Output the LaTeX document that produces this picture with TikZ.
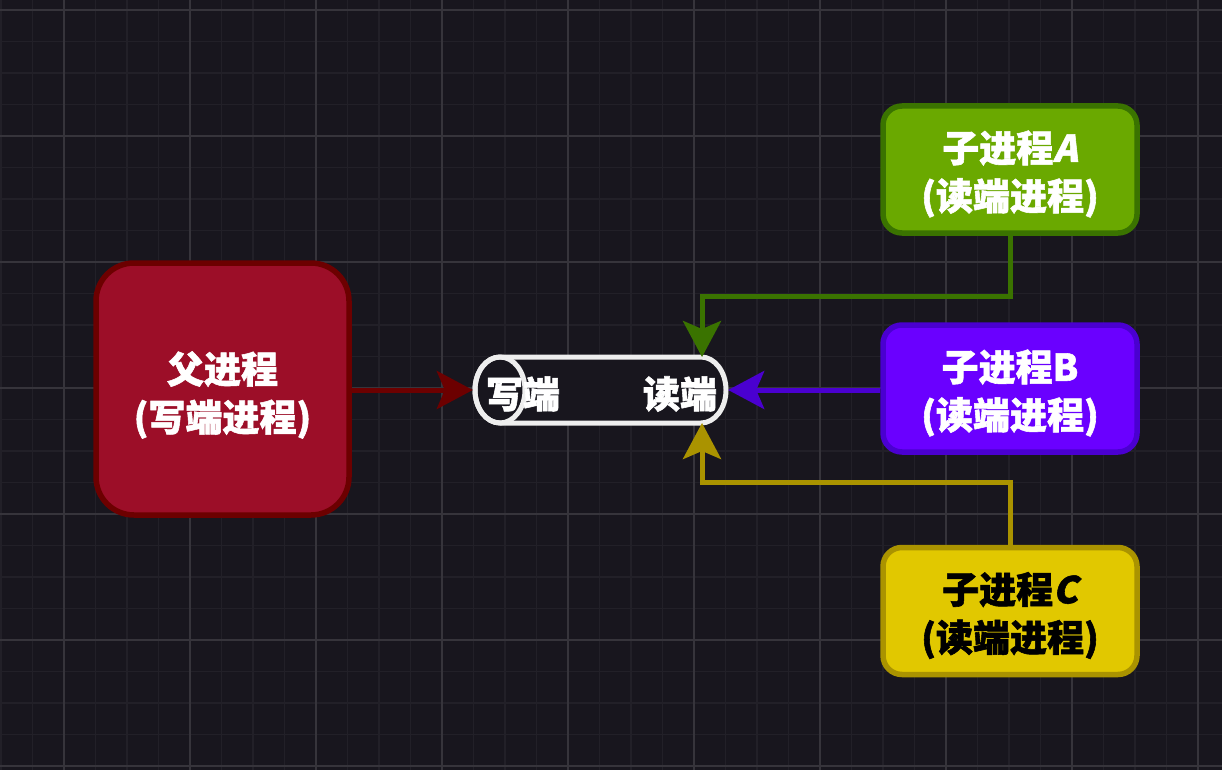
\documentclass[tikz,border=0pt]{standalone}
\usepackage{fontspec}
\usetikzlibrary{arrows.meta}
\newfontfamily\cjk{Noto Sans CJK SC}[BoldFeatures={FakeBold=1.5}]
\definecolor{bg}{HTML}{18161E}
\definecolor{gminor}{HTML}{222028}
\definecolor{gmajor}{HTML}{36343B}
\definecolor{pfill}{HTML}{9C0E28}
\definecolor{pline}{HTML}{6C0000}
\definecolor{afill}{HTML}{6AA900}
\definecolor{aline}{HTML}{3A7300}
\definecolor{bfill}{HTML}{6A00FF}
\definecolor{bline}{HTML}{4A00D0}
\definecolor{cfill}{HTML}{E1C800}
\definecolor{cline}{HTML}{AA9300}
\definecolor{pipec}{HTML}{EEEEEE}
\newcommand{\slant}[1]{{\addfontfeatures{FakeSlant=0.2}#1}}
\tikzset{
  minorline/.style={draw=gminor, line width=1.2pt},
  majorline/.style={draw=gmajor, line width=1.3pt},
  procbox/.style={line width=5.5pt, align=center, inner sep=0pt,
    font=\cjk\bfseries\fontsize{37pt}{48pt}\selectfont},
  parentbox/.style={procbox, fill=pfill, draw=pline, text=white,
    minimum width=253pt, minimum height=252pt, rounded corners=38pt},
  childbox/.style={procbox, minimum width=254pt, minimum height=127pt, rounded corners=19pt},
  conn/.style={line width=5pt, -{Stealth[length=36pt, width=38pt, inset=8pt]}, line join=miter},
  pipetext/.style={text=white, inner sep=0pt, font=\cjk\bfseries\fontsize{37pt}{40pt}\selectfont},
}
\begin{document}
\begin{tikzpicture}[x=1pt, y=-1pt]
\fill[bg] (0,0) rectangle (1222,770);
\useasboundingbox (0,0) rectangle (1222,770);
% grid
\foreach \i in {-2,...,37} {
  \draw[minorline] ({64+31.5*\i},0) -- ({64+31.5*\i},770);
}
\foreach \i in {-1,...,24} {
  \draw[minorline] (0,{10+31.5*\i}) -- (1222,{10+31.5*\i});
}
\foreach \i in {-1,...,9} {
  \draw[majorline] ({64+126*\i},0) -- ({64+126*\i},770);
}
\foreach \i in {0,...,6} {
  \draw[majorline] (0,{10+126*\i}) -- (1222,{10+126*\i});
}
% boxes
\node[parentbox] (parent) at (222.5,389) {};
\node[procbox, text=white] (tp) at (222.5,395) {父进程\\(写端进程)};
\node[childbox, fill=afill, draw=aline, text=white] (ca) at (1010,169.5) {};
\node[childbox, fill=bfill, draw=bline, text=white] (cb) at (1010,388.5) {};
\node[childbox, fill=cfill, draw=cline, text=black] (cc) at (1010,611) {};
\node[procbox, text=white] (ta) at (1010,174) {子进程\slant{A}\\(读端进程)};
\node[procbox, text=white] (tb) at (1010,393) {子进程B\\(读端进程)};
\node[procbox, text=black] (tc) at (1010,615.5) {子进程\slant{C}\\(读端进程)};
% pipe
\node[minimum width=255pt, minimum height=68pt, inner sep=0pt] (pipe) at (600.5,390) {};
\coordinate (pipetop) at (702,357);
\coordinate (pipebot) at (702,423);
\draw[pipec, fill=bg, line width=5pt] (500,357) -- (701,357)
  arc[start angle=90, end angle=-90, x radius=25pt, y radius=33pt]
  -- (500,423)
  arc[start angle=270, end angle=90, x radius=25pt, y radius=33pt] -- cycle;
\draw[pipec, line width=5pt] (500,390) ellipse [x radius=25pt, y radius=33pt];
\node[pipetext] (wend) at (523,394) {写端};
\node[pipetext] (rend) at (680,394) {读端};
% connectors
\draw[conn, pline] (pipe.west -| parent.east) -- (pipe.west);
\draw[conn, bline] (pipe.east -| cb.west) -- (pipe.east);
\draw[conn, aline] (ca.south) -- ++(0,61) -| (pipetop);
\draw[conn, cline] (cc.north) -- ++(0,-62) -| (pipebot);
\end{tikzpicture}
\end{document}
